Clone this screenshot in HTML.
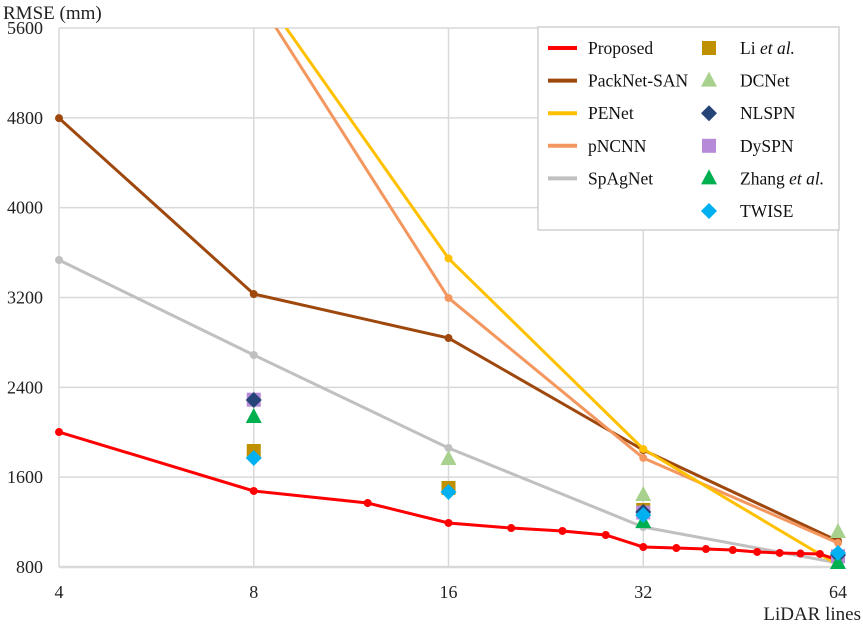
<!DOCTYPE html>
<html><head><meta charset="utf-8"><style>
body{margin:0;background:#fff}
svg{display:block;font-family:"Liberation Serif",serif}
</style></head><body>
<svg id="chart" width="863" height="630" xmlns="http://www.w3.org/2000/svg"></svg>
<script>
const xTicks=[4,8,16,32,64];
const yTicks=[800,1600,2400,3200,4000,4800,5600];
const redX=[4,8,12,16,20,24,28,32,36,40,44,48,52,56,60,64];
const redY=[2002,1477,1370,1192,1147,1121,1085,978,969,960,951,934,925,920,916,862];
const lineX=[4,8,16,32,64];
const packnet=[4797,3231,2839,1842,1032];
const penetX=[8,16,32,64];
const penet=[6010,3548,1851,818];
const pncnnX=[8,16,32,64];
const pncnn=[5912,3196,1771,1014];
const spagnet=[3534,2688,1860,1156,836];
const liX=[8,16,32];const liY=[1833,1504,1308];
const dcX=[16,32,64];const dcY=[1762,1441,1112];
const nlX=[8,32,64];const nlY=[2287,1290,907];
const dyX=[8,32,64];const dyY=[2290,1285,895];
const zhX=[8,32,64];const zhY=[2136,1200,836];
const twX=[8,16,32,64];const twY=[1771,1468,1263,925];

const NS="http://www.w3.org/2000/svg";
const svg=document.getElementById('chart');
const L=59,R=838,T=28,B=567;
const xs=v=>L+(R-L)*(Math.log2(v)-2)/4;
const ys=v=>B-(B-T)*(v-800)/4800;
function mk(tag,attrs,parent){const e=document.createElementNS(NS,tag);for(const k in attrs)e.setAttribute(k,attrs[k]);(parent||svg).appendChild(e);return e;}
const defs=mk('defs',{});const cp=mk('clipPath',{id:'clip'},defs);mk('rect',{x:L-10,y:T,width:R-L+20,height:B-T+10},cp);

xTicks.forEach(t=>{const g=mk('line',{x1:xs(t),x2:xs(t),y1:T,y2:B,stroke:'#d9d9d9','stroke-width':1.5});


const tx=mk('text',{x:xs(t),y:598,'text-anchor':'middle','font-size':18,fill:'#222'});tx.textContent=t;

});
yTicks.forEach(t=>{const g=mk('line',{x1:L,x2:R,y1:ys(t),y2:ys(t),stroke:'#d9d9d9','stroke-width':t===800?2.5:1.5});


const tx=mk('text',{x:43,y:ys(t)+6,'text-anchor':'end','font-size':18,fill:'#222'});tx.textContent=t;

});
const yt=mk('text',{x:3,y:19,'font-size':19,fill:'#222'});yt.textContent='RMSE (mm)';


const xt=mk('text',{x:861,y:620,'text-anchor':'end','font-size':19,fill:'#222'});xt.textContent='LiDAR lines';



const plot=mk('g',{'clip-path':'url(#clip)'});
const plotClip=mk('clipPath',{id:'clip2'},defs);mk('rect',{x:L-10,y:T,width:R-L+20,height:B-T+10},plotClip);
function series(X,Y,color,name){const g=mk('g',{},plot);


mk('polyline',{points:X.map((x,i)=>xs(x)+','+ys(Y[i])).join(' '),fill:'none',stroke:color,'stroke-width':3},g);
X.forEach((x,i)=>{const c=mk('circle',{cx:xs(x),cy:ys(Y[i]),r:4,fill:color},g);

});}
series(lineX,spagnet,'#c0c0c0','spagnet-line');
series(lineX,packnet,'#9e480e','packnet-san-line');
series(pncnnX,pncnn,'#f4975f','pncnn-line');
series(penetX,penet,'#ffc000','penet-line');
series(redX,redY,'#ff0000','proposed-line');

function marker(shape,cx,cy,color,parent){
 if(shape==='sq')return mk('rect',{x:cx-7,y:cy-7,width:14,height:14,fill:color},parent);
 if(shape==='tri')return mk('polygon',{points:`${cx},${cy-9} ${cx+8},${cy+6} ${cx-8},${cy+6}`,fill:color},parent);
 return mk('polygon',{points:`${cx},${cy-8} ${cx+8},${cy} ${cx},${cy+8} ${cx-8},${cy}`,fill:color},parent);}
function scatter(X,Y,shape,color,name){const g=mk('g',{});


X.forEach((x,i)=>{const m=marker(shape,xs(x),ys(Y[i]),color,g);

});}
scatter(liX,liY,'sq','#bf9000','li-et-al');
scatter(dcX,dcY,'tri','#a9d18e','dcnet');
scatter(dyX,dyY,'sq','#b68ad8','dyspn');
scatter(nlX,nlY,'dia','#264478','nlspn');
scatter(zhX,zhY,'tri','#00b050','zhang-et-al');
scatter(twX,twY,'dia','#00b0f0','twise');

const lg=mk('g',{});


mk('rect',{x:538,y:27,width:301,height:203,fill:'#fff',stroke:'#d0d0d0','stroke-width':1.5},lg);
const leftItems=[['Proposed','#ff0000'],['PackNet-SAN','#9e480e'],['PENet','#ffc000'],['pNCNN','#f4975f'],['SpAgNet','#c0c0c0']];
const rightItems=[['Li ','et al.','sq','#bf9000'],['DCNet','','tri','#a9d18e'],['NLSPN','','dia','#264478'],['DySPN','','sq','#b68ad8'],['Zhang ','et al.','tri','#00b050'],['TWISE','','dia','#00b0f0']];
const rowY=i=>48+i*32.6;
leftItems.forEach((it,i)=>{const g=mk('g',{},lg);


mk('line',{x1:548,x2:577,y1:rowY(i),y2:rowY(i),stroke:it[1],'stroke-width':4},g);
const t=mk('text',{x:588,y:rowY(i)+6,'font-size':17.5,fill:'#111'},g);t.textContent=it[0];});
rightItems.forEach((it,i)=>{const g=mk('g',{},lg);


marker(it[2],709,rowY(i),it[3],g);
const t=mk('text',{x:740,y:rowY(i)+6,'font-size':17.5,fill:'#111'},g);t.textContent=it[0];
if(it[1]){const s=mk('tspan',{'font-style':'italic'},t);s.textContent=it[1];}});
</script>
</body></html>
